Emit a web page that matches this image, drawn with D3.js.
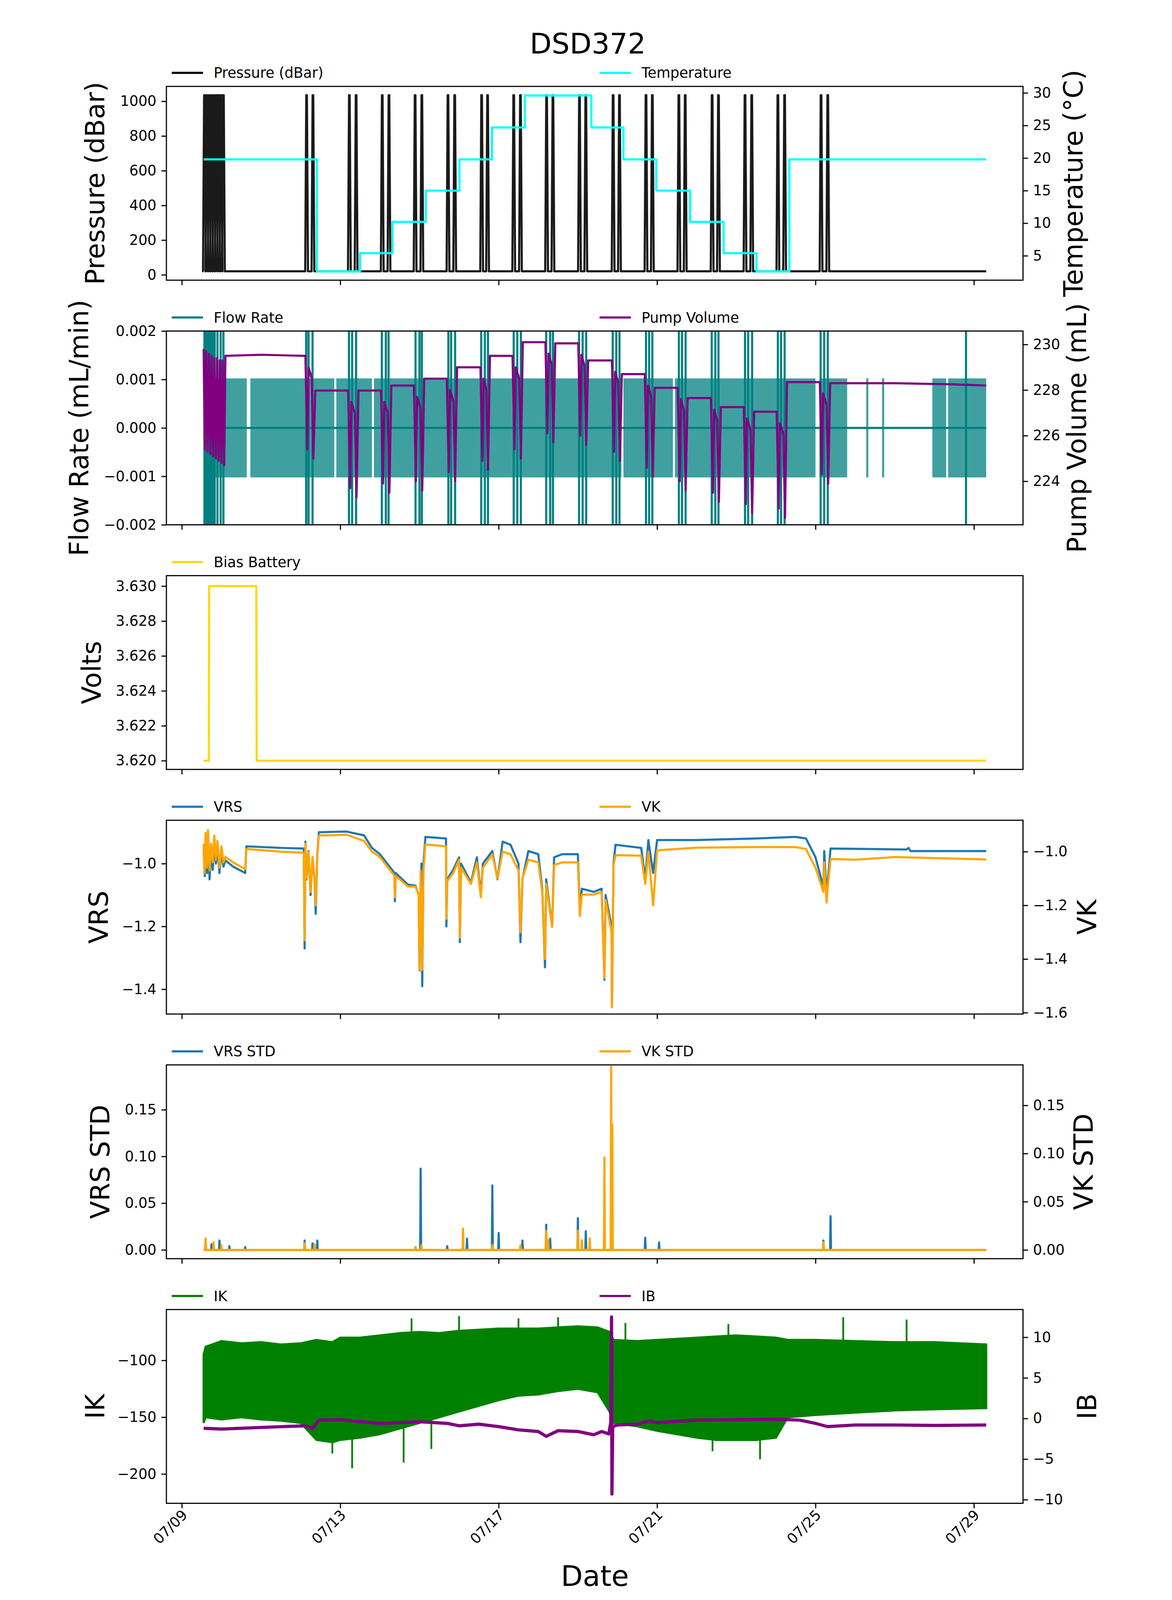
<!DOCTYPE html>
<html>
<head>
<meta charset="utf-8">
<script src="https://cdn.jsdelivr.net/npm/d3@7"></script>
<style>
html, body { margin: 0; padding: 0; background: white; overflow: hidden; }
svg { display: block; }
text { font-family: "DejaVu Sans", sans-serif; }
</style>
</head>
<body>
<svg id="chart"></svg>
<script>
const W = 3000, H = 4500;
const left = 320, right = 2729, panelH = 545, step = 688, firstTop = 243;
const t0 = Date.UTC(2024, 6, 9);
const day = d => new Date(t0 + d * 86400000);

// ---- data (days since 07/09 00:00) ----
const pressureSpikes = [0.57,0.63,0.69,0.75,0.81,0.87,0.93,0.99,1.05,
  3.15,3.31,4.23,4.40,5.06,5.23,5.89,6.06,6.72,6.89,7.57,7.72,8.38,8.55,9.21,9.37,
  10.04,10.2,10.89,11.05,11.72,11.88,12.55,12.71,13.39,13.55,14.22,14.39,15.05,15.22,16.14,16.31];
const tempSteps = [[0.55,3.41,19.8],[3.41,4.50,2.6],[4.50,5.32,5.4],[5.32,6.16,10.2],[6.16,7.01,15.0],
  [7.01,7.83,19.8],[7.83,8.66,24.7],[8.66,10.34,29.6],[10.34,11.15,24.7],[11.15,11.98,19.8],
  [11.98,12.83,15.0],[12.83,13.68,10.2],[13.68,14.51,5.4],[14.51,15.34,2.6],[15.34,20.31,19.8]];

const pumpStart = [[0.55,229.8],[0.58,225.4],[0.61,229.7],[0.65,225.3],[0.68,229.6],[0.72,225.2],[0.75,229.5],
  [0.79,225.1],[0.82,229.4],[0.86,225.0],[0.89,229.4],[0.93,224.9],[0.96,229.3],[1.0,224.8],[1.03,229.3],
  [1.07,224.7],[1.1,229.5],[2.0,229.55],[3.1,229.5]];
const pumpDips = [[3.15,3.31,225.0,227.98],[4.23,4.40,223.3,227.98],[5.06,5.23,223.5,228.2],[5.89,6.06,223.6,228.5],
  [6.72,6.89,224.0,229.0],[7.57,7.72,224.5,229.5],[8.38,8.55,225.0,230.1],[9.21,9.37,225.7,230.05],
  [10.04,10.2,225.6,229.3],[10.89,11.05,224.9,228.7],[11.72,11.88,224.2,228.1],[12.55,12.71,223.6,227.65],
  [13.39,13.55,223.1,227.25],[14.22,14.39,222.6,227.05],[15.05,15.22,222.4,228.35],[16.14,16.31,223.9,228.3]];

const flowActive = [[0.55,1.64],[1.73,3.85],[3.9,4.8],[4.85,11.1],[11.15,12.4],[12.45,16.0],[16.1,16.8],
  [17.28,17.31],[17.68,17.71],[18.95,19.3],[19.35,20.31]];
const flowSpikes = [0.57,0.6,0.63,0.66,0.7,0.74,0.78,0.83,0.9,0.98,1.05,3.14,3.2,3.3,4.22,4.3,4.4,5.05,5.15,5.22,
  5.9,6.0,6.06,6.73,6.8,6.9,7.56,7.65,7.73,8.38,8.47,8.56,9.2,9.3,9.37,10.03,10.12,10.21,10.88,10.97,11.05,
  11.72,11.8,11.88,12.55,12.63,12.72,13.38,13.47,13.55,14.22,14.3,14.4,15.05,15.13,15.22,16.13,16.22,16.31,19.8];

const battery = [[0.55,3.620],[0.68,3.620],[0.69,3.630],[1.88,3.630],[1.89,3.620],[20.31,3.620]];

const vrs = [[0.55,-0.95],[0.58,-1.04],[0.61,-0.93],[0.64,-1.03],[0.67,-0.94],[0.70,-1.05],[0.74,-0.96],[0.78,-1.02],
  [0.82,-0.93],[0.86,-1.0],[0.9,-0.95],[0.95,-1.03],[1.0,-0.96],[1.05,-1.01],[1.1,-0.99],[1.3,-1.01],[1.6,-1.03],
  [1.63,-0.945],[2.5,-0.95],[3.08,-0.952],[3.1,-1.27],[3.12,-0.93],[3.15,-1.05],[3.2,-0.96],[3.25,-1.1],[3.3,-0.98],
  [3.35,-1.05],[3.38,-1.16],[3.42,-0.97],[3.46,-0.9],[4.16,-0.898],[4.6,-0.91],[4.8,-0.95],[5.0,-0.97],[5.37,-1.03],
  [5.38,-1.12],[5.4,-1.03],[5.71,-1.067],[5.9,-1.07],[5.98,-1.1],[6.0,-1.34],[6.05,-1.0],[6.07,-1.39],[6.1,-1.0],
  [6.15,-0.915],[6.67,-0.92],[6.68,-1.2],[6.7,-1.05],[6.85,-1.02],[7.0,-0.98],[7.02,-1.25],[7.05,-1.0],[7.3,-1.06],
  [7.45,-0.98],[7.55,-1.1],[7.6,-1.0],[7.84,-0.96],[7.97,-1.05],[8.1,-0.93],[8.3,-0.94],[8.5,-1.0],[8.55,-1.25],
  [8.6,-1.05],[8.75,-0.96],[9.0,-0.97],[9.1,-1.08],[9.17,-1.33],[9.2,-1.05],[9.35,-1.2],[9.4,-0.98],[9.6,-0.97],
  [10.0,-0.97],[10.05,-1.15],[10.1,-1.08],[10.4,-1.09],[10.6,-1.08],[10.67,-1.37],[10.7,-1.1],[10.85,-1.2],
  [10.86,-1.45],[10.9,-1.0],[10.95,-0.94],[11.6,-0.95],[11.7,-1.05],[11.78,-0.925],[11.9,-1.03],[12.0,-0.925],
  [13.0,-0.925],[14.5,-0.92],[15.5,-0.915],[15.76,-0.92],[16.0,-0.98],[16.2,-1.075],[16.22,-0.96],[16.28,-1.1],
  [16.3,-1.07],[16.38,-0.952],[18.3,-0.955],[18.35,-0.95],[18.4,-0.96],[20.31,-0.96]];
const vk = [[0.55,-0.97],[0.57,-1.08],[0.6,-0.93],[0.63,-1.06],[0.66,-0.92],[0.7,-1.07],[0.74,-0.97],[0.78,-1.04],
  [0.82,-0.94],[0.86,-1.03],[0.9,-0.96],[0.95,-1.06],[1.0,-0.98],[1.05,-1.04],[1.1,-1.02],[1.3,-1.04],[1.6,-1.065],
  [1.63,-0.99],[2.5,-1.0],[3.08,-1.004],[3.1,-1.33],[3.12,-0.97],[3.15,-1.1],[3.2,-1.0],[3.25,-1.15],[3.3,-1.02],
  [3.35,-1.1],[3.38,-1.2],[3.42,-1.01],[3.46,-0.94],[4.16,-0.937],[4.6,-0.96],[4.8,-1.0],[5.0,-1.02],[5.37,-1.09],
  [5.38,-1.17],[5.4,-1.09],[5.71,-1.13],[5.9,-1.13],[5.98,-1.16],[6.0,-1.44],[6.03,-1.07],[6.07,-1.44],[6.1,-1.07],
  [6.15,-0.973],[6.67,-0.98],[6.68,-1.25],[6.7,-1.11],[6.85,-1.08],[7.0,-1.03],[7.02,-1.32],[7.05,-1.06],[7.3,-1.12],
  [7.45,-1.04],[7.55,-1.17],[7.6,-1.06],[7.84,-1.01],[7.97,-1.1],[8.1,-1.0],[8.3,-1.01],[8.5,-1.07],[8.55,-1.3],
  [8.6,-1.1],[8.75,-1.03],[9.0,-1.04],[9.1,-1.15],[9.17,-1.4],[9.2,-1.12],[9.35,-1.28],[9.4,-1.05],[9.6,-1.04],
  [10.0,-1.04],[10.05,-1.24],[10.1,-1.16],[10.4,-1.16],[10.6,-1.15],[10.67,-1.47],[10.7,-1.18],[10.85,-1.3],
  [10.86,-1.58],[10.9,-1.05],[10.95,-1.013],[11.6,-1.015],[11.7,-1.12],[11.78,-1.0],[11.9,-1.2],[12.0,-0.995],
  [13.0,-0.985],[14.5,-0.983],[15.5,-0.983],[15.76,-0.99],[16.0,-1.06],[16.2,-1.15],[16.22,-1.04],[16.28,-1.19],
  [16.3,-1.15],[16.38,-1.027],[17.0,-1.03],[18.0,-1.02],[20.31,-1.029]];

const vrsStdSpikes = [[0.6,0.008],[0.75,0.006],[0.95,0.01],[1.2,0.004],[1.6,0.003],[3.1,0.01],[3.3,0.007],[3.42,0.01],
  [5.9,0.003],[6.03,0.087],[6.7,0.004],[7.2,0.012],[7.84,0.069],[8.0,0.018],[8.6,0.01],[9.2,0.027],[9.3,0.012],
  [10.0,0.034],[10.2,0.02],[10.67,0.032],[10.85,0.02],[11.7,0.013],[12.05,0.008],[16.2,0.01],[16.38,0.036]];
const vkStdSpikes = [[0.6,0.012],[0.8,0.008],[1.0,0.005],[3.1,0.007],[3.35,0.006],[5.9,0.003],[6.05,0.005],
  [7.1,0.022],[7.84,0.005],[8.55,0.005],[9.2,0.02],[9.25,0.01],[10.0,0.02],[10.1,0.01],[10.3,0.012],
  [10.67,0.096],[10.84,0.19],[10.87,0.13],[16.2,0.008]];

const ikBand = [[0.55,-155,-95],[0.6,-150,-88],[1,-152,-83],[1.5,-150,-85],[2,-152,-84],[2.5,-153,-86],[3,-155,-85],
  [3.4,-170,-82],[3.8,-172,-84],[4,-170,-80],[4.5,-168,-80],[5,-165,-78],[5.5,-160,-76],[6,-155,-75],[6.5,-150,-76],
  [7,-145,-74],[7.5,-140,-73],[8,-135,-72],[8.5,-131,-72],[9,-130,-72],[9.5,-127,-71],[10,-125,-70],[10.5,-128,-71],
  [10.8,-145,-75],[10.9,-155,-82],[11.5,-158,-83],[12,-162,-82],[12.5,-165,-81],[13,-168,-80],[13.5,-170,-79],
  [14,-170,-78],[14.5,-170,-79],[15,-168,-80],[15.3,-150,-82],[16,-148,-82],[17,-146,-83],[18,-144,-84],
  [19,-143,-84],[20.31,-142,-86]];
const ikSpikes = [[4.3,-165,-195],[5.6,-160,-190],[13.4,-165,-180],[14.6,-165,-187],[3.8,-165,-182],[6.3,-150,-178],
  [7.0,-78,-61],[9.5,-75,-62],[11.2,-83,-67],[16.7,-82,-62],[18.3,-84,-64],[5.8,-78,-63],[8.5,-74,-63],[13.8,-80,-68]];
const ib = [[0.55,-1.2],[1,-1.3],[2,-1.1],[3.1,-0.9],[3.3,-1.2],[3.46,-0.2],[4,-0.15],[5,-0.6],[6,-0.4],[6.7,-0.6],
  [7,-0.9],[7.5,-0.7],[8,-1.0],[8.5,-1.4],[9.0,-1.6],[9.2,-2.2],[9.5,-1.5],[10,-1.6],[10.4,-2.0],[10.6,-1.6],
  [10.78,-1.9],[10.83,-0.5],[10.85,12.5],[10.86,-9.3],[10.88,-1.0],[11.0,-0.8],[11.5,-0.7],[11.8,-0.3],[12,-0.5],
  [13,-0.2],[14,-0.15],[15,-0.1],[15.6,-0.2],[16.0,-0.6],[16.3,-1.0],[17,-0.8],[18,-0.8],[19,-0.85],[20.31,-0.8]];

// ---- layout ----
const svg = d3.select('#chart').attr('viewBox', `0 0 ${W} ${H}`)
    .attr('width', W).attr('height', H)
    .style('width', '100vw').style('height', '100vh').attr('preserveAspectRatio', 'xMidYMid meet');
svg.append('rect').attr('width', W).attr('height', H).attr('fill', 'white');
const x = d3.scaleUtc().domain([day(-0.39), day(21.24)]).range([left, right]);
const xTicks = d3.range(0, 21, 4).map(day);

svg.append('text').attr('x', 1505).attr('y', 150).attr('text-anchor', 'middle')
   .attr('font-size', 80).text('DSD372');

function panel(i, cfg) {
    const top = firstTop + i * step, bottom = top + panelH;
    const g = svg.append('g');
    g.append('clipPath').attr('id', 'clip' + i).append('rect')
        .attr('x', left).attr('y', top).attr('width', right - left).attr('height', panelH);
    const y = d3.scaleLinear().domain(cfg.yl).range([bottom, top]);
    const yR = cfg.yr ? d3.scaleLinear().domain(cfg.yr).range([bottom, top]) : null;
    const plot = g.append('g').attr('clip-path', `url(#clip${i})`);

    const styleAxis = a => {
        a.select('.domain').remove();
        a.selectAll('line').attr('stroke', 'black').attr('stroke-width', 3.2);
        a.selectAll('text').attr('font-size', 40).attr('font-family', 'DejaVu Sans');
    };
    g.append('g').attr('transform', `translate(${left},0)`)
        .call(d3.axisLeft(y).tickValues(cfg.lt).tickFormat(d3.format(cfg.lf)).tickSize(14).tickPadding(14))
        .call(styleAxis);
    if (yR) {
        g.append('g').attr('transform', `translate(${right},0)`)
            .call(d3.axisRight(yR).tickValues(cfg.rt).tickFormat(d3.format(cfg.rf)).tickSize(14).tickPadding(14))
            .call(styleAxis);
    }
    const xa = g.append('g').attr('transform', `translate(0,${bottom})`)
        .call(d3.axisBottom(x).tickValues(xTicks).tickFormat(d3.utcFormat('%m/%d')).tickSize(14).tickPadding(10))
        .call(styleAxis);
    if (i < 5) xa.selectAll('text').remove();
    else xa.selectAll('text').attr('text-anchor', 'end').attr('dy', '0.3em')
        .attr('transform', 'translate(-8,10) rotate(-45)');

    g.append('rect').attr('x', left).attr('y', top).attr('width', right - left).attr('height', panelH)
        .attr('fill', 'none').attr('stroke', 'black').attr('stroke-width', 3.2);

    g.append('text').attr('transform', `translate(${cfg.lx},${(top + bottom) / 2}) rotate(-90)`)
        .attr('text-anchor', 'middle').attr('font-size', 74).text(cfg.ll);
    if (cfg.rl) g.append('text').attr('transform', `translate(${cfg.rx},${(top + bottom) / 2}) rotate(-90)`)
        .attr('text-anchor', 'middle').attr('font-size', 74).text(cfg.rl);

    cfg.legend.forEach((l, k) => {
        const lx = k === 0 ? 335 : 1538, ly = top - 38;
        g.append('line').attr('x1', lx).attr('x2', lx + 88).attr('y1', ly).attr('y2', ly)
            .attr('stroke', l[1]).attr('stroke-width', 6);
        g.append('text').attr('x', lx + 118).attr('y', ly + 14).attr('font-size', 40).text(l[0]);
    });
    return { plot, y, yR };
}

const lineOf = (sx, sy) => d3.line().x(d => sx(day(d[0]))).y(d => sy(d[1]));
function drawLine(plot, data, sx, sy, color, w = 6) {
    plot.append('path').datum(data).attr('d', lineOf(sx, sy)).attr('fill', 'none')
        .attr('stroke', color).attr('stroke-width', w).attr('stroke-linejoin', 'round');
}

// Panel 1
let p = panel(0, { yl: [-31, 1086], lt: [0,200,400,600,800,1000], lf: 'd',
    yr: [1.25, 31], rt: [5,10,15,20,25,30], rf: 'd',
    ll: 'Pressure (dBar)', lx: 145, rl: 'Temperature (°C)', rx: 2896,
    legend: [['Pressure (dBar)', 'black'], ['Temperature', 'cyan']] });
const pressure = [[0.55, 20]];
pressureSpikes.forEach(t => pressure.push([t - 0.035, 20], [t - 0.008, 1035], [t + 0.008, 1035], [t + 0.035, 20]));
pressure.push([20.31, 20]);
drawLine(p.plot, pressure, x, p.y, '#1a1a1a');
const temp = [];
tempSteps.forEach(s => temp.push([s[0], s[2]], [s[1], s[2]]));
drawLine(p.plot, temp, x, p.yR, 'cyan');

// Panel 2
p = panel(1, { yl: [-0.002, 0.002], lt: [-0.002,-0.001,0,0.001,0.002], lf: '.3f',
    yr: [222.09, 230.59], rt: [224,226,228,230], rf: 'd',
    ll: 'Flow Rate (mL/min)', lx: 100, rl: 'Pump Volume (mL)', rx: 2906,
    legend: [['Flow Rate', 'teal'], ['Pump Volume', 'purple']] });
drawLine(p.plot, [[0.55, 0], [20.31, 0]], x, p.y, 'teal');
flowActive.forEach(a => {
    p.plot.append('rect').attr('x', x(day(a[0]))).attr('width', Math.max(6, x(day(a[1])) - x(day(a[0]))))
        .attr('y', p.y(0.001) - 3).attr('height', p.y(-0.001) - p.y(0.001) + 6)
        .attr('fill', 'teal').attr('fill-opacity', 0.75);
});
flowSpikes.forEach(t => drawLine(p.plot, [[t, -0.002], [t, 0.002]], x, p.y, 'teal'));
const pump = pumpStart.slice();
let prev = 229.5;
pumpDips.forEach(dp => {
    const [c1, c2, low, after] = dp;
    pump.push([c1 - 0.03, prev], [c1 + 0.02, low + 0.4], [c1 + 0.05, prev - 0.5], [c2 - 0.03, prev - 1.0],
        [c2 + 0.01, low], [c2 + 0.06, after]);
    prev = after;
});
pump.push([18.0, 228.3], [19.5, 228.25], [20.31, 228.2]);
drawLine(p.plot, pump, x, p.yR, 'purple');

// Panel 3
p = panel(2, { yl: [3.6195, 3.6306], lt: [3.620,3.622,3.624,3.626,3.628,3.630], lf: '.3f',
    ll: 'Volts', lx: 135, legend: [['Bias Battery', 'gold']] });
drawLine(p.plot, battery, x, p.y, 'gold');

// Panel 4
p = panel(3, { yl: [-1.479, -0.862], lt: [-1.4,-1.2,-1.0], lf: '.1f',
    yr: [-1.605, -0.883], rt: [-1.6,-1.4,-1.2,-1.0], rf: '.1f',
    ll: 'VRS', lx: 155, rl: 'VK', rx: 2935,
    legend: [['VRS', '#1f77b4'], ['VK', 'orange']] });
drawLine(p.plot, vrs, x, p.y, '#1f77b4');
drawLine(p.plot, vk, x, p.yR, 'orange');

// Panel 5
const spikeSeries = s => {
    const out = [[0.55, 0]];
    s.forEach(d => out.push([d[0] - 0.012, 0], [d[0], d[1]], [d[0] + 0.012, 0]));
    out.push([20.31, 0]);
    return out;
};
p = panel(4, { yl: [-0.0094, 0.198], lt: [0,0.05,0.1,0.15], lf: '.2f',
    yr: [-0.0091, 0.192], rt: [0,0.05,0.1,0.15], rf: '.2f',
    ll: 'VRS STD', lx: 160, rl: 'VK STD', rx: 2925,
    legend: [['VRS STD', '#1f77b4'], ['VK STD', 'orange']] });
drawLine(p.plot, spikeSeries(vrsStdSpikes), x, p.y, '#1f77b4');
drawLine(p.plot, spikeSeries(vkStdSpikes), x, p.yR, 'orange');

// Panel 6
p = panel(5, { yl: [-225.8, -55.2], lt: [-200,-150,-100], lf: 'd',
    yr: [-10.44, 13.42], rt: [-10,-5,0,5,10], rf: 'd',
    ll: 'IK', lx: 145, rl: 'IB', rx: 2935,
    legend: [['IK', 'green'], ['IB', 'purple']] });
p.plot.append('path').datum(ikBand)
    .attr('d', d3.area().x(d => x(day(d[0]))).y0(d => p.y(d[1])).y1(d => p.y(d[2])))
    .attr('fill', 'green').attr('stroke', 'green').attr('stroke-width', 6);
ikSpikes.forEach(s => drawLine(p.plot, [[s[0], s[1]], [s[0], s[2]]], x, p.y, 'green', 5));
drawLine(p.plot, ib, x, p.yR, 'purple', 9);

svg.append('text').attr('x', 1525).attr('y', 4460).attr('text-anchor', 'middle')
   .attr('font-size', 80).text('Date');
</script>
</body>
</html>
